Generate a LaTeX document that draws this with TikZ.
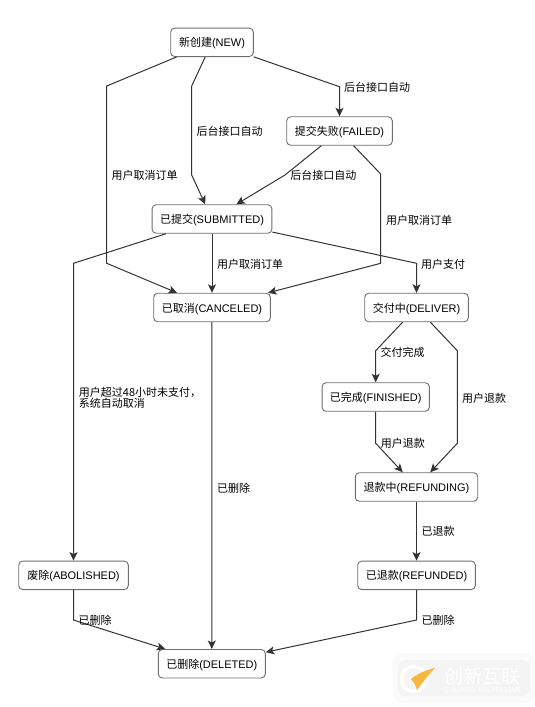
\documentclass[tikz,border=0pt]{standalone}
\usepackage{fontspec}
\usetikzlibrary{arrows.meta}
\setmainfont{Liberation Sans}
\newfontfamily\cjk{Noto Sans CJK SC}
\definecolor{linecol}{HTML}{333333}
\definecolor{boxcol}{HTML}{6E6E6E}
\definecolor{markcol}{HTML}{FAFAFA}
\definecolor{markcore}{HTML}{F4F4F4}
\definecolor{swoosh}{HTML}{F5B83D}
\tikzset{
  state/.style={draw=boxcol, line width=0.9pt, rounded corners=4pt, fill=white,
    minimum height=28.5pt, inner sep=0pt, text height=9.6pt, text depth=0.6pt,
    font=\fontsize{11}{11}\selectfont},
  flow/.style={draw=linecol, line width=1pt, -{Stealth[length=8.5pt,width=8pt,inset=2pt]}},
  lab/.style={inner sep=0pt, font=\fontsize{11}{11}\selectfont\cjk, text=black}
}
\begin{document}
\begin{tikzpicture}[x=1pt, y=-1pt]
\useasboundingbox (0,0) rectangle (535,707);
\node[state, minimum width=82.6pt] (new) at (212,42.3) {{\cjk 新创建}(NEW)};
\node[state, minimum width=105.6pt] (failed) at (339.5,131) {{\cjk 提交失败}(FAILED)};
\node[state, minimum width=119.7pt] (submitted) at (212,219) {{\cjk 已提交}(SUBMITTED)};
\node[state, minimum width=116.6pt] (canceled) at (212,307.5) {{\cjk 已取消}(CANCELED)};
\node[state, minimum width=103.6pt] (deliver) at (416.5,307.5) {{\cjk 交付中}(DELIVER)};
\node[state, minimum width=107.3pt] (finished) at (375.7,397) {{\cjk 已完成}(FINISHED)};
\node[state, minimum width=122.4pt] (refunding) at (416.5,487) {{\cjk 退款中}(REFUNDING)};
\node[state, minimum width=117.6pt] (refunded) at (416.5,575.3) {{\cjk 已退款}(REFUNDED)};
\node[state, minimum width=109.6pt] (abolished) at (73.5,575.3) {{\cjk 废除}(ABOLISHED)};
\node[state, minimum width=107pt] (deleted) at (211.8,663.7) {{\cjk 已删除}(DELETED)};

\draw[flow] (new) -- (106.7,86) -- (106.7,263.3) -- (canceled);
\draw[flow] (new) -- (191.7,86) -- (191.7,175) -- (submitted);
\draw[flow] (new) -- (339.5,86.7) -- (failed);
\draw[flow] (failed) -- (285,175) -- (submitted);
\draw[flow] (failed) -- (380.7,174) -- (380.7,263.3) -- (canceled);
\draw[flow] (submitted) -- (canceled);
\draw[flow] (submitted) -- (416.5,263.3) -- (deliver);
\draw[flow] (submitted) -- (73.5,263.3) -- (abolished);
\draw[flow] (canceled) -- (deleted);
\draw[flow] (deliver) -- (375.7,350.7) -- (finished);
\draw[flow] (deliver) -- (457.3,350.7) -- (457.3,443.3) -- (refunding);
\draw[flow] (finished) -- (375.7,443.3) -- (refunding);
\draw[flow] (refunding) -- (refunded);
\draw[flow] (refunded) -- (416.5,620) -- (deleted);
\draw[flow] (abolished) -- (73.5,620) -- (deleted);

\node[lab] (autoa) at (377,87) {后台接口自动};
\node[lab] (autob) at (229.7,131) {后台接口自动};
\node[lab] (autoc) at (323.3,175.7) {后台接口自动};
\node[lab] (cancela) at (144.7,175.7) {用户取消订单};
\node[lab] (cancelb) at (419,220) {用户取消订单};
\node[lab] (cancelc) at (250,264) {用户取消订单};
\node[lab] (pay) at (443,264) {用户支付};
\node[lab] (done) at (402.7,352) {交付完成};
\node[lab] (backa) at (484,398) {用户退款};
\node[lab] (backb) at (402.8,443.7) {用户退款};
\node[lab] (backed) at (438,531.7) {已退款};
\node[lab] (dela) at (438,620) {已删除};
\node[lab] (delb) at (95,620) {已删除};
\node[lab] (delc) at (233.7,488.3) {已删除};
\node[lab, align=left, anchor=west] (timeout) at (78.7,397.8) {用户超过48小时未支付，\\系统自动取消};

\node[fill=markcol, rounded corners=10pt, minimum width=142pt, minimum height=50pt] (mark) at (464,678) {};
\node[fill=markcore, rounded corners=8pt, minimum width=132pt, minimum height=36pt] (markcore) at (464,678) {};
\node[font=\fontsize{19}{19}\selectfont\cjk, text=white] (markname) at (482.5,676) {创新互联};
\node[font=\fontsize{7.3}{7.3}\selectfont, text=white] (markpin) at (482.5,690) {CHUANG XIN HU LIAN};
\node[circle, draw=white, line width=3.5pt, minimum size=25pt, inner sep=0pt] (markring) at (414,679) {};
\fill[swoosh] (411,679) .. controls (417,674) and (426,670) .. (435,668) .. controls (429,674) and (423,682) .. (417,690) .. controls (416,686) and (414,682) .. (411,679) -- cycle;
\end{tikzpicture}
\end{document}
